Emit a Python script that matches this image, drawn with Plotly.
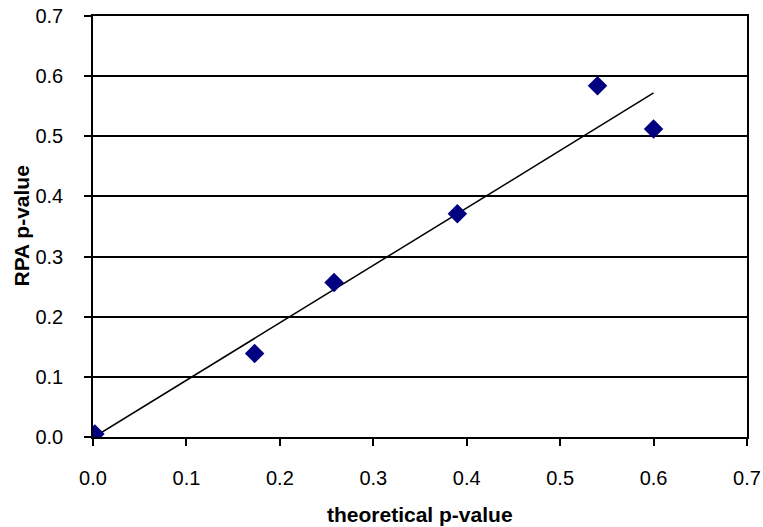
import numpy as np
import plotly.graph_objects as go

theoretical_p = [0.002, 0.173, 0.258, 0.390, 0.540, 0.600]
rpa_p = [0.005, 0.139, 0.257, 0.371, 0.584, 0.512]
tick_vals = [0.0, 0.1, 0.2, 0.3, 0.4, 0.5, 0.6, 0.7]

slope, intercept = np.polyfit(theoretical_p, rpa_p, 1)
trend_x = [0.0, max(theoretical_p)]
trend_y = [intercept + slope * v for v in trend_x]

FONT = "Liberation Sans, Arial, sans-serif"

fig = go.Figure()
fig.add_trace(go.Scatter(x=trend_x, y=trend_y, mode="lines",
                         line=dict(color="black", width=1.5),
                         showlegend=False, hoverinfo="skip"))
fig.add_trace(go.Scatter(x=theoretical_p, y=rpa_p, mode="markers",
                         marker=dict(symbol="diamond", size=15, color="#000080",
                                     line=dict(width=0)),
                         showlegend=False))

fig.update_layout(
    width=763, height=527,
    margin=dict(l=93, r=16, t=16, b=90),
    paper_bgcolor="white", plot_bgcolor="white",
    font=dict(family=FONT, size=20, color="black"),
    xaxis=dict(range=[0, 0.7], tickvals=tick_vals, tickformat=".1f",
               automargin=False,
               showgrid=False, zeroline=False, showline=True, linecolor="black",
               linewidth=1.5, mirror=True, ticks="outside", ticklen=7,
               tickcolor="black", tickwidth=1.5, ticklabelstandoff=15),
    yaxis=dict(range=[0, 0.7], tickvals=tick_vals, tickformat=".1f",
               automargin=False,
               showgrid=True, gridcolor="black", gridwidth=1.5,
               zeroline=False, showline=True, linecolor="black",
               linewidth=1.5, mirror=True, ticks="outside", ticklen=7,
               tickcolor="black", tickwidth=1.5, ticklabelstandoff=17),
    annotations=[
        dict(text="<b>theoretical p-value</b>", xref="paper", yref="paper",
             x=0.5, y=-(514 - 437) / 421, xanchor="center", yanchor="middle",
             showarrow=False, font=dict(size=21)),
        dict(text="<b>RPA p-value</b>", xref="paper", yref="paper",
             x=-(93 - 21) / 654, y=0.5, xanchor="center", yanchor="middle",
             textangle=-90, showarrow=False, font=dict(size=21)),
    ],
)

fig.write_html("out.html")
